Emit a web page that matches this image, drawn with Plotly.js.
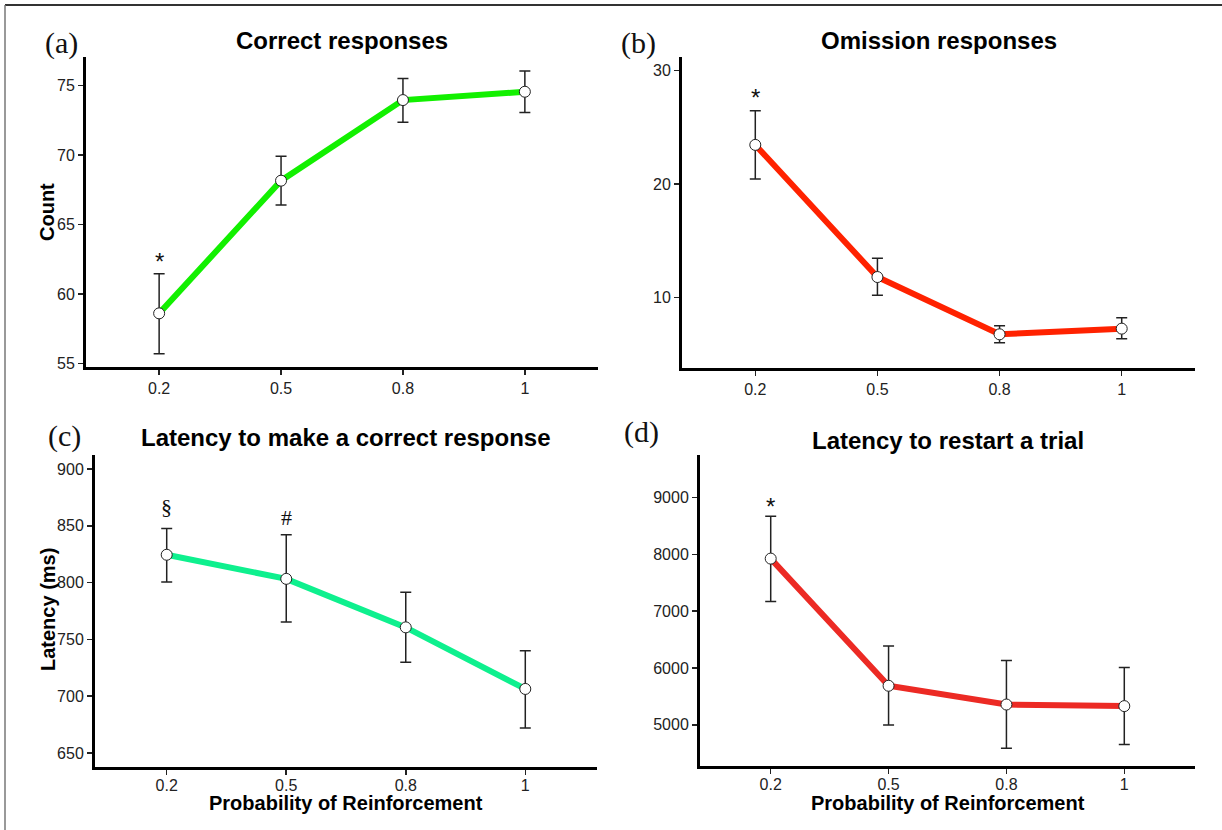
<!DOCTYPE html>
<html>
<head>
<meta charset="utf-8">
<script src="https://cdn.plot.ly/plotly-3.0.1.min.js"></script>
<style>
  html, body { margin: 0; padding: 0; background: #fff; }
  #chart { width: 1222px; height: 830px; }
</style>
</head>
<body>
<div id="chart"></div>
<script>
// ---- data ----
const probs = ['0.2', '0.5', '0.8', '1'];

const correctMean  = [58.6, 68.15, 73.95, 74.55];
const correctUpper = [61.45, 69.9, 75.5, 76.05];
const correctLower = [55.7, 66.4, 72.35, 73.05];

const omissionMean  = [23.45, 11.8, 6.75, 7.25];
const omissionUpper = [26.45, 13.45, 7.5, 8.2];
const omissionLower = [20.45, 10.2, 6.0, 6.35];

const correctLatMean  = [824.5, 803.3, 760.6, 706.4];
const correctLatUpper = [847.6, 842.0, 791.4, 740.0];
const correctLatLower = [800.6, 765.4, 729.9, 672.1];

const restartMean  = [7924, 5688, 5358, 5330];
const restartUpper = [8670, 6388, 6134, 6011];
const restartLower = [7170, 5000, 4589, 4653];

const panelTitles = ['Correct responses', 'Omission responses',
                     'Latency to make a correct response', 'Latency to restart a trial'];
const panelLabels = ['(a)', '(b)', '(c)', '(d)'];
const xTitle = 'Probability of Reinforcement';
const yTitles = ['Count', 'Latency (ms)'];

// significance marks
const sigPanels = [0, 1, 2, 2, 3];
const sigCats   = ['0.2', '0.2', '0.2', '0.5', '0.2'];
const sigY      = [62.7, 28.1, 867, 857, 8920];
const sigText   = ['*', '*', '§', '#', '*'];

// ---- layout helpers ----
const W = 1222, H = 830;
const px = v => v / W;
const py = v => 1 - v / H;

const panels = [
  {mean: correctMean, up: correctUpper, lo: correctLower, color: '#12f000',
   xd: [86, 598], yd: [57, 367], yr: [54.74, 77.05], tick: [55, 60, 65, 70, 75],
   lab: [61, 43], titleY: 40, xstand: 0},
  {mean: omissionMean, up: omissionUpper, lo: omissionLower, color: '#ff2200',
   xd: [682, 1195], yd: [57, 368], yr: [3.78, 31.2], tick: [10, 20, 30],
   lab: [638, 43], titleY: 40, xstand: 0},
  {mean: correctLatMean, up: correctLatUpper, lo: correctLatLower, color: '#0ef08e',
   xd: [95, 597], yd: [455, 767], yr: [637.7, 912.3], tick: [650, 700, 750, 800, 850, 900],
   lab: [64, 436], titleY: 437, xstand: -3},
  {mean: restartMean, up: restartUpper, lo: restartLower, color: '#ec2a24',
   xd: [700, 1195], yd: [455, 766], yr: [4277, 9746], tick: [5000, 6000, 7000, 8000, 9000],
   lab: [641, 432], titleY: 440, xstand: -3}
];

const sans = 'Liberation Sans, Arial, sans-serif';
const serif = 'Liberation Serif, Times New Roman, serif';
const tickFont = {family: sans, size: 16, color: '#222'};
const data = [];
const layout = {
  width: W, height: H,
  margin: {l: 0, r: 0, t: 0, b: 0},
  paper_bgcolor: '#fff', plot_bgcolor: '#fff',
  showlegend: false,
  annotations: [],
  shapes: [
    {type: 'line', xref: 'paper', yref: 'paper', x0: px(5), x1: 1, y0: py(5), y1: py(5),
     line: {color: '#333', width: 2}},
    {type: 'line', xref: 'paper', yref: 'paper', x0: px(5), x1: px(5), y0: py(5), y1: 0,
     line: {color: '#777', width: 1.5}}
  ]
};

panels.forEach((p, i) => {
  const n = i + 1;
  const xa = n === 1 ? 'x' : 'x' + n;
  const ya = n === 1 ? 'y' : 'y' + n;
  data.push({
    type: 'scatter', mode: 'lines+markers', x: probs, y: p.mean,
    xaxis: xa, yaxis: ya,
    line: {color: p.color, width: 6},
    marker: {size: 11, color: '#fff', line: {color: '#222', width: 1}},
    error_y: {type: 'data', symmetric: false,
      array: p.up.map((u, k) => u - p.mean[k]),
      arrayminus: p.lo.map((l, k) => p.mean[k] - l),
      color: '#222', thickness: 1.5, width: 5.5},
    cliponaxis: false
  });
  const axCommon = {
    showline: true, linecolor: '#000', linewidth: 3, mirror: false,
    showgrid: false, zeroline: false,
    ticks: 'outside', ticklen: 5, tickwidth: 1.5, tickcolor: '#222',
    tickfont: tickFont, fixedrange: true
  };
  layout['xaxis' + (n === 1 ? '' : n)] = Object.assign({}, axCommon, {
    type: 'category', range: [-0.6, 3.6],
    domain: [px(p.xd[0]), px(p.xd[1])], anchor: ya,
    tickvals: probs, ticktext: probs,
    ticklabelstandoff: p.xstand
  });
  layout['yaxis' + (n === 1 ? '' : n)] = Object.assign({}, axCommon, {
    range: p.yr, domain: [py(p.yd[1]), py(p.yd[0])], anchor: xa,
    tickvals: p.tick, ticktext: p.tick.map(String)
  });
  // panel title
  layout.annotations.push({
    xref: 'paper', yref: 'paper',
    x: px((p.xd[0] + p.xd[1]) / 2), y: py(p.titleY),
    xanchor: 'center', yanchor: 'middle', showarrow: false,
    text: '<b>' + panelTitles[i] + '</b>',
    font: {family: sans, size: 24, color: '#000'}
  });
  // panel label
  layout.annotations.push({
    xref: 'paper', yref: 'paper',
    x: px(p.lab[0]), y: py(p.lab[1]),
    xanchor: 'center', yanchor: 'middle', showarrow: false,
    text: panelLabels[i],
    font: {family: serif, size: 30, color: '#111'}
  });
});

// y axis titles (left column)
layout.annotations.push({
  xref: 'paper', yref: 'paper', x: px(47), y: py(212),
  xanchor: 'center', yanchor: 'middle', showarrow: false, textangle: -90,
  text: '<b>' + yTitles[0] + '</b>',
  font: {family: sans, size: 20, color: '#000'}
});
layout.annotations.push({
  xref: 'paper', yref: 'paper', x: px(48), y: py(610),
  xanchor: 'center', yanchor: 'middle', showarrow: false, textangle: -90,
  text: '<b>' + yTitles[1] + '</b>',
  font: {family: sans, size: 20, color: '#000'}
});
// x axis titles (bottom row)
[2, 3].forEach(i => {
  const p = panels[i];
  layout.annotations.push({
    xref: 'paper', yref: 'paper', x: px((p.xd[0] + p.xd[1]) / 2), y: py(803),
    xanchor: 'center', yanchor: 'middle', showarrow: false,
    text: '<b>' + xTitle + '</b>',
    font: {family: sans, size: 20, color: '#000'}
  });
});

// significance marks
sigPanels.forEach((pi, k) => {
  const n = pi + 1;
  const isSerif = sigText[k] !== '*';
  layout.annotations.push({
    xref: n === 1 ? 'x' : 'x' + n, yref: n === 1 ? 'y' : 'y' + n,
    x: probs.indexOf(sigCats[k]), y: sigY[k], showarrow: false,
    xanchor: 'center', yanchor: 'middle',
    yshift: isSerif ? 0 : -5,
    text: sigText[k],
    font: isSerif ? {family: serif, size: 22, color: '#111'}
                  : {family: sans, size: 24, color: '#111'}
  });
});

Plotly.newPlot('chart', data, layout, {staticPlot: true, displayModeBar: false});
</script>
</body>
</html>
